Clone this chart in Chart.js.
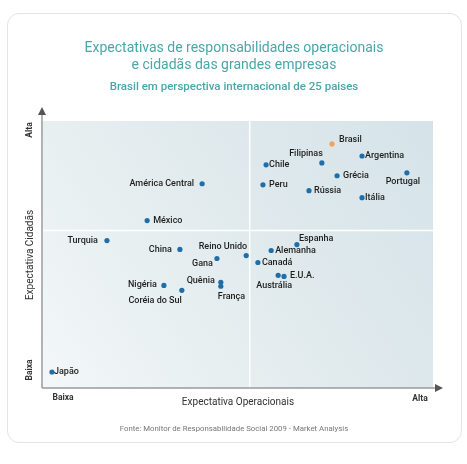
<!DOCTYPE html>
<html>
<head>
<meta charset="utf-8">
<script src="https://cdn.jsdelivr.net/npm/chart.js@4"></script>
<style>
  html, body { margin: 0; padding: 0; background: #fff; }
  #card {
    position: absolute; left: 7px; top: 13px; width: 453px; height: 428px;
    border: 1px solid #e4e4e4; border-radius: 12px;
  }
  #wrap { position: absolute; left: 0; top: 0; width: 467px; height: 464px; }
</style>
</head>
<body>
<div id="card"></div>
<div id="wrap"><canvas id="quadChart"></canvas></div>
<script>
// paises e posicoes (0 = baixa, 100 = alta)
var countries = [
  'Brasil', 'Filipinas', 'Argentina', 'Chile', 'Grécia', 'Portugal', 'Peru',
  'Rússia', 'Itália', 'América Central', 'México', 'Turquia', 'China',
  'Reino Unido', 'Gana', 'Nigéria', 'Coréia do Sul', 'Quênia', 'França',
  'Alemanha', 'Canadá', 'Austrália', 'E.U.A.', 'Espanha', 'Japão'
]
var operacional = [
  74.1, 71.5, 81.8, 57.2, 75.4, 93.3, 56.4,
  68.2, 81.8, 40.8, 26.7, 16.4, 35.1,
  52.1, 44.6, 31.0, 35.6, 45.6, 45.6,
  58.5, 55.1, 60.3, 61.8, 65.1, 2.3
]
var cidada = [
  91.4, 84.3, 86.9, 83.6, 79.5, 80.6, 76.1,
  73.9, 71.3, 76.5, 62.7, 55.2, 51.9,
  49.6, 48.5, 38.4, 36.6, 39.6, 38.1,
  51.5, 47.0, 42.2, 41.8, 53.7, 6.0
]
var divisaoX = 53
var divisaoY = 59
var axisLevels = ['Baixa', 'Alta']

// onde fica o nome de cada ponto: [dx, dy, align]
var labelPlacement = {
  'Brasil': [7, -4, 'left'], 'Filipinas': [1, -9, 'right'], 'Argentina': [3, 0, 'left'],
  'Chile': [3, 0, 'left'], 'Grécia': [6, 0, 'left'], 'Portugal': [-4, 9, 'center'],
  'Peru': [6, 0, 'left'], 'Rússia': [5, 0, 'left'], 'Itália': [3, 0, 'left'],
  'América Central': [-8, 0, 'right'], 'México': [6, 0, 'left'], 'Turquia': [-9, 0, 'right'],
  'China': [-8, 0, 'right'], 'Reino Unido': [1, -9, 'right'], 'Gana': [-4, 5, 'right'],
  'Nigéria': [-7, -1, 'right'], 'Coréia do Sul': [0, 10, 'right'], 'Quênia': [-6, -2, 'right'],
  'França': [-3, 10, 'left'], 'Alemanha': [4, 0, 'left'], 'Canadá': [4, 0, 'left'],
  'Austrália': [-4, 10, 'center'], 'E.U.A.': [6, -1, 'left'], 'Espanha': [2, -6, 'left'],
  'Japão': [2, 0, 'left']
}

var points = countries.map(function (c, i) {
  return { x: operacional[i], y: cidada[i], name: c }
})
var colors = countries.map(function (c) {
  return c === 'Brasil' ? '#f2a25c' : '#1f6ea8'
})

var fam = 'Roboto, "Noto Sans", sans-serif'
var labelFont = '500 9px ' + fam
var teal = '#4aa6aa'

var quadrants = {
  id: 'quadrants',
  beforeDatasetsDraw: function (chart) {
    var ctx = chart.ctx
    var a = chart.chartArea
    var sx = chart.scales.x
    var sy = chart.scales.y
    ctx.save()
    var g = ctx.createLinearGradient(a.left, a.bottom, a.right, a.top)
    g.addColorStop(0, '#f3f7f8')
    g.addColorStop(0.5, '#e2ebee')
    g.addColorStop(1, '#d5e3e8')
    ctx.fillStyle = g
    ctx.fillRect(a.left, a.top, a.right - a.left, a.bottom - a.top)
    ctx.strokeStyle = '#ffffff'
    ctx.lineWidth = 1.5
    ctx.beginPath()
    ctx.moveTo(sx.getPixelForValue(divisaoX), a.top)
    ctx.lineTo(sx.getPixelForValue(divisaoX), a.bottom)
    ctx.moveTo(a.left, sy.getPixelForValue(divisaoY))
    ctx.lineTo(a.right, sy.getPixelForValue(divisaoY))
    ctx.stroke()

    // eixos com setas
    ctx.strokeStyle = '#9a9a9a'
    ctx.lineWidth = 1.5
    ctx.beginPath()
    ctx.moveTo(a.left - 1, a.bottom)
    ctx.lineTo(a.right + 4, a.bottom)
    ctx.moveTo(a.left - 1, a.bottom)
    ctx.lineTo(a.left - 1, a.top - 10)
    ctx.stroke()
    ctx.fillStyle = '#555'
    ctx.beginPath()
    ctx.moveTo(a.right + 10, a.bottom)
    ctx.lineTo(a.right + 2, a.bottom - 4)
    ctx.lineTo(a.right + 2, a.bottom + 4)
    ctx.fill()
    ctx.beginPath()
    ctx.moveTo(a.left - 1, a.top - 14)
    ctx.lineTo(a.left - 5, a.top - 6)
    ctx.lineTo(a.left + 3, a.top - 6)
    ctx.fill()
    ctx.restore()
  },
  afterDatasetsDraw: function (chart) {
    var ctx = chart.ctx
    var a = chart.chartArea
    var meta = chart.getDatasetMeta(0)
    ctx.save()
    ctx.font = labelFont
    ctx.fillStyle = '#1e1e1e'
    ctx.textBaseline = 'middle'
    meta.data.forEach(function (el, i) {
      var p = labelPlacement[countries[i]]
      ctx.textAlign = p[2]
      ctx.fillText(countries[i], el.x + p[0], el.y + p[1])
    })

    // textos dos eixos
    ctx.fillStyle = '#333'
    ctx.textAlign = 'center'
    ctx.font = 'bold 8.5px ' + fam
    ctx.fillText(axisLevels[0], a.left + 20, a.bottom + 10)
    ctx.fillText(axisLevels[1], a.right - 13, a.bottom + 11)
    ctx.font = '10px ' + fam
    ctx.fillText('Expectativa Operacionais', 238, a.bottom + 14)

    ctx.save()
    ctx.translate(30, 0)
    ctx.rotate(-Math.PI / 2)
    ctx.font = 'bold 8.5px ' + fam
    ctx.fillText(axisLevels[1], -130, 0)
    ctx.fillText(axisLevels[0], -370, 0)
    ctx.font = '10px ' + fam
    ctx.fillText('Expectativa Cidadãs', -255, 0)
    ctx.restore()

    // titulos
    ctx.fillStyle = teal
    ctx.font = '14px ' + fam
    ctx.fillText('Expectativas de responsabilidades operacionais', 234, 48)
    ctx.fillText('e cidadãs das grandes empresas', 234, 65)
    ctx.font = '500 11.5px ' + fam
    ctx.fillText('Brasil em perspectiva internacional de 25 paises', 234, 87)

    ctx.fillStyle = '#777'
    ctx.font = '7.8px ' + fam
    ctx.fillText('Fonte: Monitor de Responsabilidade Social 2009 - Market Analysis', 234, 429)
    ctx.restore()
  }
}

var ctx = document.getElementById('quadChart').getContext('2d')
var myChart = new Chart(ctx, {
  type: 'scatter',
  data: {
    datasets: [
      {
        label: 'Países',
        data: points,
        backgroundColor: colors,
        borderWidth: 0,
        pointRadius: 2.6,
        pointHoverRadius: 2.6,
      },
    ],
  },
  options: {
    responsive: true,
    maintainAspectRatio: false,
    animation: false,
    layout: {
      padding: { left: 43, right: 34, top: 121, bottom: 76 },
    },
    plugins: {
      legend: { display: false },
      tooltip: { enabled: false },
    },
    scales: {
      x: { display: false, min: 0, max: 100 },
      y: { display: false, min: 0, max: 100 },
    },
  },
  plugins: [quadrants],
})
</script>
</body>
</html>
